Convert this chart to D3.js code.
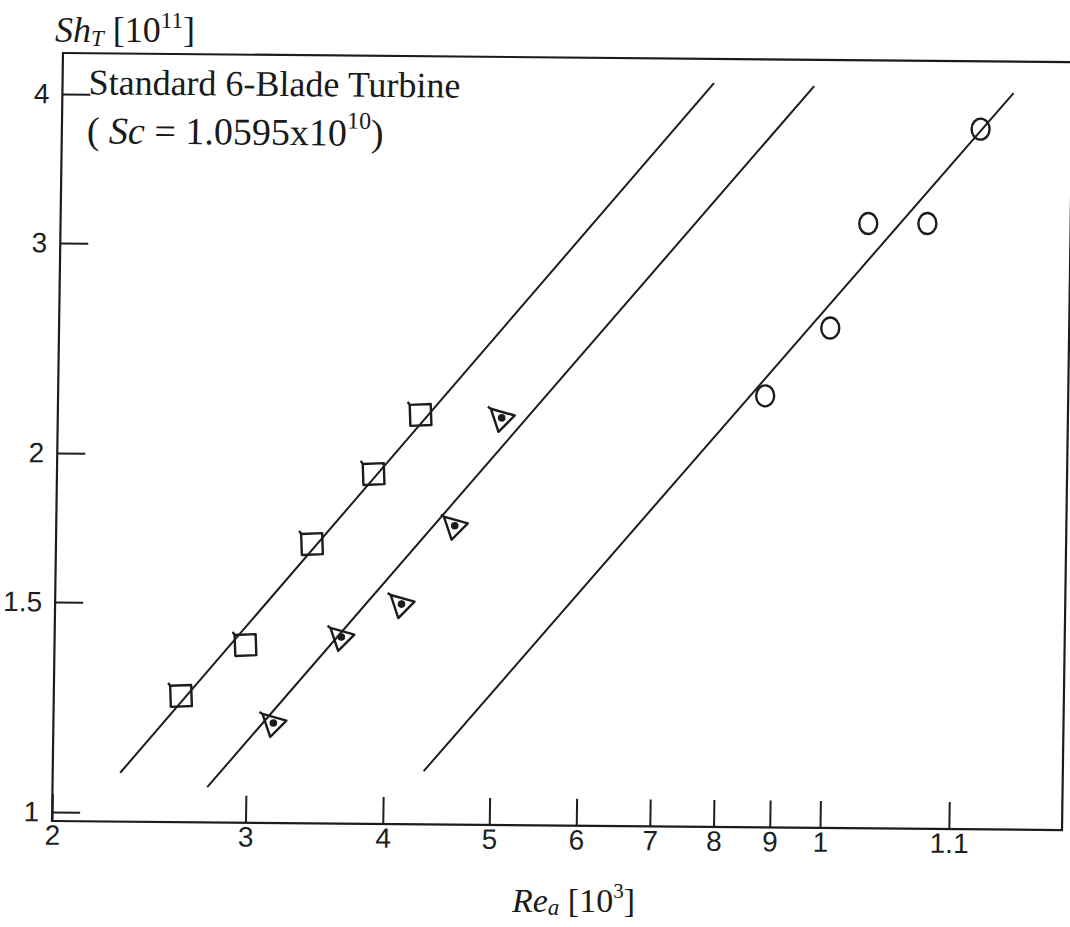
<!DOCTYPE html>
<html>
<head>
<meta charset="utf-8">
<script src="https://cdn.jsdelivr.net/npm/d3@7"></script>
<style>
  body { margin: 0; background: #ffffff; }
  svg { display: block; }
  .axis .tick text { font-family: "Liberation Sans", Arial, sans-serif; font-size: 28px; fill: #1e1e1e; }
  .axis .tick line { stroke: #1e1e1e; stroke-width: 2; }
  .serif { font-family: "Liberation Serif", "Times New Roman", serif; fill: #1a1a1a; }
</style>
</head>
<body>
<svg id="chart" width="1070" height="927"></svg>
<script>
// Mass transfer for a standard 6-blade turbine: Sh_T (x10^11) against Re_a (x10^3)
const squareRe   = [2.611, 2.984, 3.420, 3.883, 4.277];
const squareSh   = [1.254, 1.385, 1.685, 1.931, 2.166];
const triangleRe = [3.171, 3.647, 4.133, 4.610, 5.070];
const triangleSh = [1.192, 1.409, 1.503, 1.750, 2.157];
const circleRe   = [8.800, 10.065, 10.866, 12.299, 13.710];
const circleSh   = [2.261, 2.580, 3.159, 3.162, 3.798];

// correlation lines, [Re, Sh] at each end
const squareFit   = [[2.304, 1.080], [7.831, 4.132]];
const triangleFit = [[2.766, 1.052], [9.662, 4.115]];
const circleFit   = [[4.351, 1.089], [14.674, 4.074]];

const xTickValues = [2, 3, 4, 5, 6, 7, 8, 9, 10, 13.1];
const xTickLabels = ["2", "3", "4", "5", "6", "7", "8", "9", "1", "1.1"];
const yTickValues = [1, 1.5, 2, 3, 4];
const yTickLabels = ["1", "1.5", "2", "3", "4"];

const ink = "#1c1c1c";
const frame = { left: 52, right: 1062, top: 53, bottom: 821 };

const x = d3.scaleLog().domain([2, 10]).range([52, 820]);
const y = d3.scaleLog().domain([1, 4]).range([812, 94]);

const svg = d3.select("#chart");

// the plotting frame sits very slightly askew on the sheet
const sx = 0.0143, sy = 0.009;
const plot = svg.append("g")
  .attr("transform", `matrix(1,${sy},${-sx},1,${sx * frame.bottom},${-sy * frame.left})`);

plot.append("rect")
  .attr("x", frame.left).attr("y", frame.top)
  .attr("width", frame.right - frame.left).attr("height", frame.bottom - frame.top)
  .attr("fill", "none").attr("stroke", ink).attr("stroke-width", 2.2);

plot.append("g").attr("class", "axis")
  .attr("transform", `translate(0,${frame.bottom})`)
  .call(d3.axisBottom(x)
    .tickValues(xTickValues)
    .tickFormat(d => xTickLabels[xTickValues.indexOf(d)])
    .tickSizeInner(-27).tickSizeOuter(0).tickPadding(4))
  .call(g => g.select(".domain").remove());

plot.append("g").attr("class", "axis")
  .attr("transform", `translate(${frame.left},0)`)
  .call(d3.axisLeft(y)
    .tickValues(yTickValues)
    .tickFormat(d => yTickLabels[yTickValues.indexOf(d)])
    .tickSizeInner(-28).tickSizeOuter(0).tickPadding(13))
  .call(g => g.select(".domain").remove());

// correlation lines
const line = d3.line().x(d => x(d[0])).y(d => y(d[1]));
[squareFit, triangleFit, circleFit].forEach(f => {
  plot.append("path").attr("d", line(f))
    .attr("fill", "none").attr("stroke", ink).attr("stroke-width", 2);
});

// squares
plot.append("g").selectAll("path")
  .data(d3.zip(squareRe, squareSh))
  .join("path")
  .attr("transform", d => `translate(${x(d[0])},${y(d[1])})`)
  .attr("d", "M-11,-10 L10,-11 L11,10 L-10,11 Z M-11,-10 L-13,-13")
  .attr("fill", "none").attr("stroke", ink).attr("stroke-width", 2.4)
  .attr("stroke-linejoin", "round");

// triangles with a centre dot
const tri = plot.append("g").selectAll("g")
  .data(d3.zip(triangleRe, triangleSh))
  .join("g")
  .attr("transform", d => `translate(${x(d[0])},${y(d[1])})`);
tri.append("path")
  .attr("d", "M-11,-9 L13,-2.5 L-3,14 Z M-11,-9 L-14,-11")
  .attr("fill", "none").attr("stroke", ink).attr("stroke-width", 2.4)
  .attr("stroke-linejoin", "round");
tri.append("circle").attr("r", 3.8).attr("fill", ink);

// circles
plot.append("g").selectAll("ellipse")
  .data(d3.zip(circleRe, circleSh))
  .join("ellipse")
  .attr("cx", d => x(d[0])).attr("cy", d => y(d[1]))
  .attr("rx", 9).attr("ry", 10.5)
  .attr("fill", "none").attr("stroke", ink).attr("stroke-width", 2.4);

// legend text
plot.append("text").attr("class", "serif")
  .attr("x", 78).attr("y", 94).attr("font-size", 36)
  .text("Standard 6-Blade Turbine");

const sc = plot.append("text").attr("class", "serif")
  .attr("x", 77).attr("y", 143).attr("font-size", 38);
sc.append("tspan").text("( ");
sc.append("tspan").attr("font-style", "italic").text("Sc");
sc.append("tspan").text(" = 1.0595x10");
sc.append("tspan").attr("font-size", 24).attr("dy", -17).text("10");
sc.append("tspan").attr("dy", 17).text(")");

// axis titles
const yt = svg.append("text").attr("class", "serif")
  .attr("x", 55).attr("y", 42).attr("font-size", 36);
yt.append("tspan").attr("font-style", "italic").text("Sh");
yt.append("tspan").attr("font-style", "italic").attr("font-size", 23).attr("dy", 4).text("T");
yt.append("tspan").attr("dy", -4).text(" [10");
yt.append("tspan").attr("font-size", 23).attr("dy", -14).text("11");
yt.append("tspan").attr("dy", 14).text("]");

const xt = svg.append("text").attr("class", "serif")
  .attr("x", 512).attr("y", 912).attr("font-size", 34);
xt.append("tspan").attr("font-style", "italic").text("Re");
xt.append("tspan").attr("font-style", "italic").attr("font-size", 23).attr("dy", 3).text("a");
xt.append("tspan").attr("dy", -3).text(" [10");
xt.append("tspan").attr("font-size", 21).attr("dy", -14).text("3");
xt.append("tspan").attr("dy", 14).text("]");
</script>
</body>
</html>
